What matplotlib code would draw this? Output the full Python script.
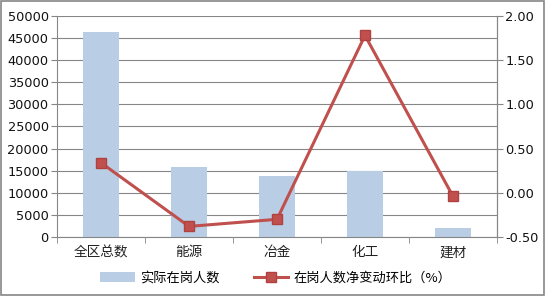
import numpy as np
import matplotlib.pyplot as plt
from matplotlib.patches import Rectangle

plt.rcParams['font.family'] = ['DejaVu Sans', 'Noto Sans CJK SC']

# =====================================================
# DATA
# =====================================================

categories = ["全区总数", "能源", "冶金", "化工", "建材"]
employed = [46400, 15900, 13800, 15000, 2100]
change_pct = [0.34, -0.38, -0.30, 1.78, -0.04]

bar_label = "实际在岗人数"
line_label = "在岗人数净变动环比（%）"

left_ticks = np.arange(0, 50001, 5000)
right_ticks = np.arange(-0.5, 2.01, 0.5)

BAR_COLOR = "#B9CDE5"
LINE_COLOR = "#C0504D"
GRID_COLOR = "#868686"

# =====================================================
# PLOT
# =====================================================

fig = plt.figure(figsize=(5.46, 2.96), dpi=100)
ax = fig.add_axes([57 / 546, 1 - 237 / 296, 440 / 546, 221 / 296])

x = np.arange(len(categories))

ax.bar(x, employed, width=0.4, color=BAR_COLOR, zorder=2, label=bar_label)

ax.set_xlim(-0.5, len(categories) - 0.5)
ax.set_ylim(0, 50000)
ax.set_yticks(left_ticks)
ax.set_yticklabels([str(v) for v in left_ticks])
ax.yaxis.grid(True, color=GRID_COLOR, linewidth=0.8, zorder=0)
ax.set_axisbelow(True)

ax.set_xticks(x)
ax.set_xticklabels(categories, family=['Noto Sans CJK SC'])
ax.set_xticks(np.arange(-0.5, len(categories), 1), minor=True)
ax.tick_params(axis='x', which='major', length=0, pad=6, labelsize=9.8, colors="#222222")
ax.tick_params(axis='x', which='minor', length=4, color=GRID_COLOR, direction='out')
ax.tick_params(axis='y', length=4, color=GRID_COLOR, labelsize=9.3, pad=2, labelcolor="#111111")

ax.spines["top"].set_visible(False)
for side in ["left", "bottom", "right"]:
    ax.spines[side].set_color(GRID_COLOR)

ax2 = ax.twinx()
ax2.plot(x, change_pct, color=LINE_COLOR, linewidth=2.2, marker='s',
         markersize=7, markerfacecolor=LINE_COLOR, markeredgecolor="#B0413E",
         zorder=3, label=line_label)
ax2.set_ylim(-0.5, 2.0)
ax2.set_yticks(right_ticks)
ax2.set_yticklabels(["%.2f" % v for v in right_ticks])
ax2.tick_params(axis='y', length=4, color=GRID_COLOR, labelsize=9.3, pad=2, labelcolor="#111111")
for side in ["top", "left", "bottom"]:
    ax2.spines[side].set_visible(False)
ax2.spines["right"].set_color(GRID_COLOR)

handles = ax.get_legend_handles_labels()[0] + ax2.get_legend_handles_labels()[0]
labels = [bar_label, line_label]
fig.legend(handles, labels, loc='center', bbox_to_anchor=(0.505, 1 - 278 / 296),
           ncol=2, frameon=False, prop={'family': ['Noto Sans CJK SC'], 'size': 9.5},
           handlelength=2.6, columnspacing=2.6, handletextpad=0.4)

# outer chart border
fig.patches.append(Rectangle((0.002, 0.003), 0.995, 0.994, transform=fig.transFigure,
                             fill=False, edgecolor=GRID_COLOR, linewidth=1.2))

plt.savefig("out.png", dpi=100)
